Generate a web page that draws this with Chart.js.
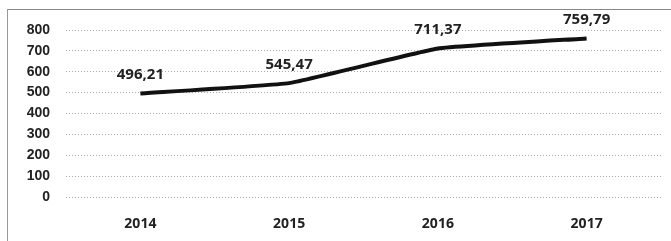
<!DOCTYPE html>
<html>
<head>
<meta charset="utf-8">
<script src="https://cdn.jsdelivr.net/npm/chart.js@4"></script>
<style>
  html, body { margin: 0; padding: 0; background: #fff; }
  #wrap { position: relative; width: 671px; height: 241px; }
  #frame { position: absolute; left: 7px; top: 9px; width: 664px; height: 240px;
           border-top: 1px solid #888; border-left: 1px solid #999; }
</style>
</head>
<body>
<div id="wrap">
  <div id="frame"></div>
  <canvas id="lineChart" width="671" height="241"></canvas>
</div>
<script>
var years = ['2014', '2015', '2016', '2017'];
var values = [496.21, 545.47, 711.37, 759.79];
var yTicks = [0, 100, 200, 300, 400, 500, 600, 700, 800];

// podpisy wartosci nad punktami
var valueLabels = {
    id: 'valueLabels',
    afterDatasetsDraw: function (chart) {
        var ctx = chart.ctx;
        var meta = chart.getDatasetMeta(0);
        ctx.save();
        ctx.font = 'bold 15px "Open Sans", sans-serif';
        ctx.fillStyle = '#222';
        ctx.textAlign = 'center';
        ctx.textBaseline = 'bottom';
        meta.data.forEach(function (pt, i) {
            var txt = values[i].toFixed(2).replace('.', ',');
            ctx.fillText(txt, pt.x, pt.y - 11);
        });
        ctx.restore();
    }
};

var ctx = document.getElementById('lineChart').getContext('2d');
window.lineChart = new Chart(ctx, {
    type: 'line',
    data: {
        labels: years,
        datasets: [{
            data: values,
            borderColor: '#111',
            borderWidth: 4,
            pointRadius: 0,
            tension: 0.1,
            fill: false
        }]
    },
    options: {
        responsive: false,
        animation: false,
        layout: { padding: { top: 30, right: 10, left: 14, bottom: 0 } },
        plugins: { legend: { display: false }, tooltip: { enabled: false } },
        scales: {
            x: {
                offset: true,
                grid: { display: false },
                border: { display: false },
                afterFit: function (axis) { axis.height = 44; },
                ticks: { color: '#222', font: { size: 14, weight: 'bold', family: '"Open Sans", sans-serif' }, padding: 11 }
            },
            y: {
                min: 0,
                max: 800,
                afterBuildTicks: function (axis) {
                    axis.ticks = yTicks.map(function (v) { return { value: v }; });
                },
                afterFit: function (axis) { axis.width = 52; },
                grid: { color: '#aaa', lineWidth: 1, drawTicks: false },
                border: { display: false, dash: [1, 2] },
                ticks: { color: '#222', padding: 16, font: { size: 14, weight: 'bold', family: '"Liberation Sans", sans-serif' } }
            }
        }
    },
    plugins: [valueLabels]
});
</script>
</body>
</html>
